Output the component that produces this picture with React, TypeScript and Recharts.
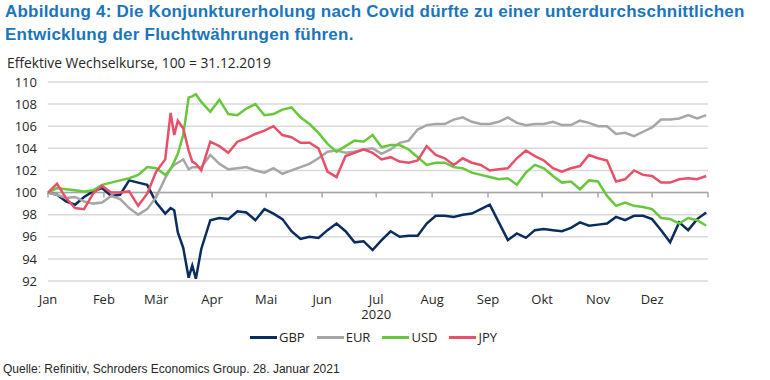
import {CartesianGrid, Line, LineChart, ReferenceLine, XAxis, YAxis} from 'recharts'
import {JSX} from 'react'

// Tag im Jahr 2020 (0 = 1. Januar)
const days = [0, 5, 10, 15, 20, 25, 30, 35, 40, 45, 50, 55, 60, 65, 68, 70, 72, 75, 78, 80, 82, 85, 90, 95, 100, 105, 110, 115, 120, 125, 130, 135, 140, 145, 150, 155, 160, 165, 170, 175, 180, 185, 190, 195, 200, 205, 210, 215, 220, 225, 230, 235, 240, 245, 250, 255, 260, 265, 270, 275, 280, 285, 290, 295, 300, 305, 310, 315, 320, 325, 330, 335, 340, 345, 350, 355, 360, 365]

const gbp = [100.0, 99.8, 99.2, 98.9, 99.6, 100.1, 100.4, 99.7, 99.8, 101.1, 100.9, 100.7, 99.1, 98.1, 98.6, 98.4, 96.4, 95.0, 92.3, 93.4, 92.2, 94.9, 97.5, 97.7, 97.6, 98.3, 98.2, 97.5, 98.5, 98.1, 97.6, 96.5, 95.8, 96.0, 95.9, 96.6, 97.2, 96.5, 95.5, 95.6, 94.8, 95.7, 96.5, 96.0, 96.1, 96.1, 97.2, 97.9, 97.9, 97.8, 98.0, 98.1, 98.5, 98.9, 97.3, 95.7, 96.3, 95.9, 96.6, 96.7, 96.6, 96.5, 96.8, 97.3, 97.0, 97.1, 97.2, 97.8, 97.5, 97.9, 97.9, 97.6, 96.6, 95.5, 97.3, 96.6, 97.6, 98.2]
const eur = [100.0, 99.8, 99.5, 99.6, 99.2, 99.0, 99.1, 99.7, 99.4, 98.6, 98.0, 98.5, 99.6, 101.3, 102.2, 102.5, 102.7, 103.0, 102.1, 102.3, 102.3, 102.3, 103.4, 102.6, 102.1, 102.2, 102.3, 102.0, 101.8, 102.2, 101.7, 102.0, 102.3, 102.6, 103.1, 103.7, 103.8, 103.6, 103.7, 103.9, 104.0, 103.5, 103.9, 104.5, 104.7, 105.7, 106.1, 106.2, 106.2, 106.6, 106.8, 106.4, 106.2, 106.2, 106.4, 106.8, 106.3, 106.1, 106.2, 106.2, 106.4, 106.1, 106.1, 106.5, 106.3, 106.0, 106.0, 105.3, 105.4, 105.1, 105.5, 105.9, 106.6, 106.6, 106.7, 107.0, 106.7, 107.0]
const usd = [100.0, 100.4, 100.3, 100.2, 100.1, 100.2, 100.7, 100.9, 101.1, 101.3, 101.6, 102.3, 102.2, 101.6, 102.1, 102.8, 103.5, 105.2, 108.6, 108.7, 108.9, 108.2, 107.3, 108.4, 107.1, 107.0, 107.6, 108.0, 107.0, 107.1, 107.5, 107.7, 106.8, 106.2, 105.4, 104.4, 103.7, 104.2, 104.7, 104.6, 105.2, 104.1, 104.3, 104.3, 103.9, 103.2, 102.5, 102.7, 102.7, 102.3, 102.2, 101.8, 101.6, 101.4, 101.2, 101.3, 100.7, 101.8, 102.5, 102.2, 101.5, 100.9, 101.0, 100.3, 101.1, 101.0, 99.7, 98.8, 99.1, 98.8, 98.7, 98.5, 97.7, 97.6, 97.2, 97.7, 97.5, 97.0]
const jpy = [100.0, 100.8, 99.5, 98.6, 98.5, 99.9, 100.6, 100.0, 100.0, 100.1, 98.8, 99.9, 101.9, 103.0, 107.2, 105.2, 106.5, 105.8, 103.8, 102.8, 102.6, 102.0, 104.6, 104.2, 103.6, 104.6, 104.9, 105.3, 105.6, 106.0, 105.2, 105.0, 104.5, 104.5, 104.0, 101.9, 101.4, 103.3, 103.6, 103.9, 103.6, 103.0, 103.2, 102.8, 102.7, 102.9, 104.2, 103.4, 103.1, 102.5, 103.1, 102.7, 102.5, 102.0, 102.1, 102.2, 103.1, 103.8, 103.3, 102.9, 102.2, 101.9, 102.2, 102.4, 103.4, 103.1, 102.9, 101.0, 101.2, 102.0, 101.6, 101.5, 100.9, 100.9, 101.2, 101.3, 101.2, 101.5]

const monthStarts = [0, 31, 60, 91, 121, 152, 182, 213, 244, 274, 305, 335]
const monthLabels = ['Jan', 'Feb', 'Mär', 'Apr', 'Mai', 'Jun', 'Jul', 'Aug', 'Sep', 'Okt', 'Nov', 'Dez']
const tickMarks = [...monthStarts, 366]
const yearLabel = '2020'
const yTicks = [92, 94, 96, 98, 100, 102, 104, 106, 108, 110]

const series = [
	{key: 'GBP', color: '#0b2c5f'},
	{key: 'EUR', color: '#a6a6a6'},
	{key: 'USD', color: '#66c83a'},
	{key: 'JPY', color: '#e8506a'},
]

const data = days.map((d, i) => ({day: d, GBP: gbp[i], EUR: eur[i], USD: usd[i], JPY: jpy[i]}))

const chartFont = '"Open Sans", "Noto Sans", sans-serif'
const textColor = '#262626'

const MonthTick = (props: any): JSX.Element => {
	const {x, y, payload} = props
	const i = monthStarts.indexOf(payload.value)
	return (
		<g>
			<text x={x} y={y} dy="0.71em" textAnchor="middle" fill={textColor} fontSize={13} fontFamily={chartFont}>
				{monthLabels[i]}
			</text>
			{i === 6 && (
				<text x={x} y={y + 1} dy="1.75em" textAnchor="middle" fill={textColor} fontSize={13} fontFamily={chartFont}>
					{yearLabel}
				</text>
			)}
		</g>
	)
}

const App = (): JSX.Element => {
	return (
		<div style={{position: 'absolute', left: 0, top: 0, width: 770, height: 380, background: '#fff', overflow: 'hidden'}}>
			<div style={{position: 'absolute', left: 5, top: 0, fontFamily: '"Liberation Sans", Arial, sans-serif', fontWeight: 'bold', fontSize: 17, letterSpacing: 0.22, lineHeight: '23px', color: '#1a75bb', whiteSpace: 'nowrap'}}>
				Abbildung 4: Die Konjunkturerholung nach Covid dürfte zu einer unterdurchschnittlichen
				<br />
				Entwicklung der Fluchtwährungen führen.
			</div>
			<div style={{position: 'absolute', left: 7, top: 53, fontFamily: chartFont, fontSize: 13.8, color: textColor}}>
				Effektive Wechselkurse, 100 = 31.12.2019
			</div>
			<div style={{position: 'absolute', left: 0, top: 0}}>
				<LineChart width={770} height={330} data={data} margin={{top: 82, right: 62, left: 8, bottom: 4}}>
					<CartesianGrid horizontal vertical={false} stroke="#d9d9d9" strokeWidth={1.5} />
					<XAxis
						dataKey="day"
						type="number"
						domain={[0, 366]}
						ticks={monthStarts}
						interval={0}
						axisLine={false}
						tickLine={false}
						tickMargin={8}
						height={45}
						tick={<MonthTick />}
					/>
					<YAxis
						type="number"
						domain={[92, 110]}
						ticks={yTicks}
						interval={0}
						axisLine={false}
						tickLine={false}
						width={40}
						tickMargin={5}
						tick={{fill: textColor, fontSize: 13, fontFamily: chartFont}}
					/>
					<ReferenceLine y={100} stroke="#a6a6a6" strokeWidth={1.5} />
					{tickMarks.map((d) => (
						<ReferenceLine key={d} segment={[{x: d, y: 100}, {x: d, y: 99.55}]} stroke="#a6a6a6" strokeWidth={1.5} />
					))}
					{series.map((s) => (
						<Line key={s.key} type="linear" dataKey={s.key} stroke={s.color} strokeWidth={2.5} dot={false} isAnimationActive={false} />
					))}
				</LineChart>
			</div>
			<div style={{position: 'absolute', left: 250, top: 328, display: 'flex', alignItems: 'center', fontFamily: chartFont, fontSize: 13, color: textColor}}>
				{series.map((s) => (
					<div key={s.key} style={{display: 'flex', alignItems: 'center', marginRight: 12}}>
						<span style={{display: 'inline-block', width: 27, height: 3, background: s.color, marginRight: 2}} />
						<span>{s.key}</span>
					</div>
				))}
			</div>
			<div style={{position: 'absolute', left: 3, top: 362, fontFamily: '"Liberation Sans Narrow", "Arial Narrow", "Liberation Sans", sans-serif', fontSize: 12, color: textColor}}>
				Quelle: Refinitiv, Schroders Economics Group. 28. Januar 2021
			</div>
		</div>
	)
}

export default App
